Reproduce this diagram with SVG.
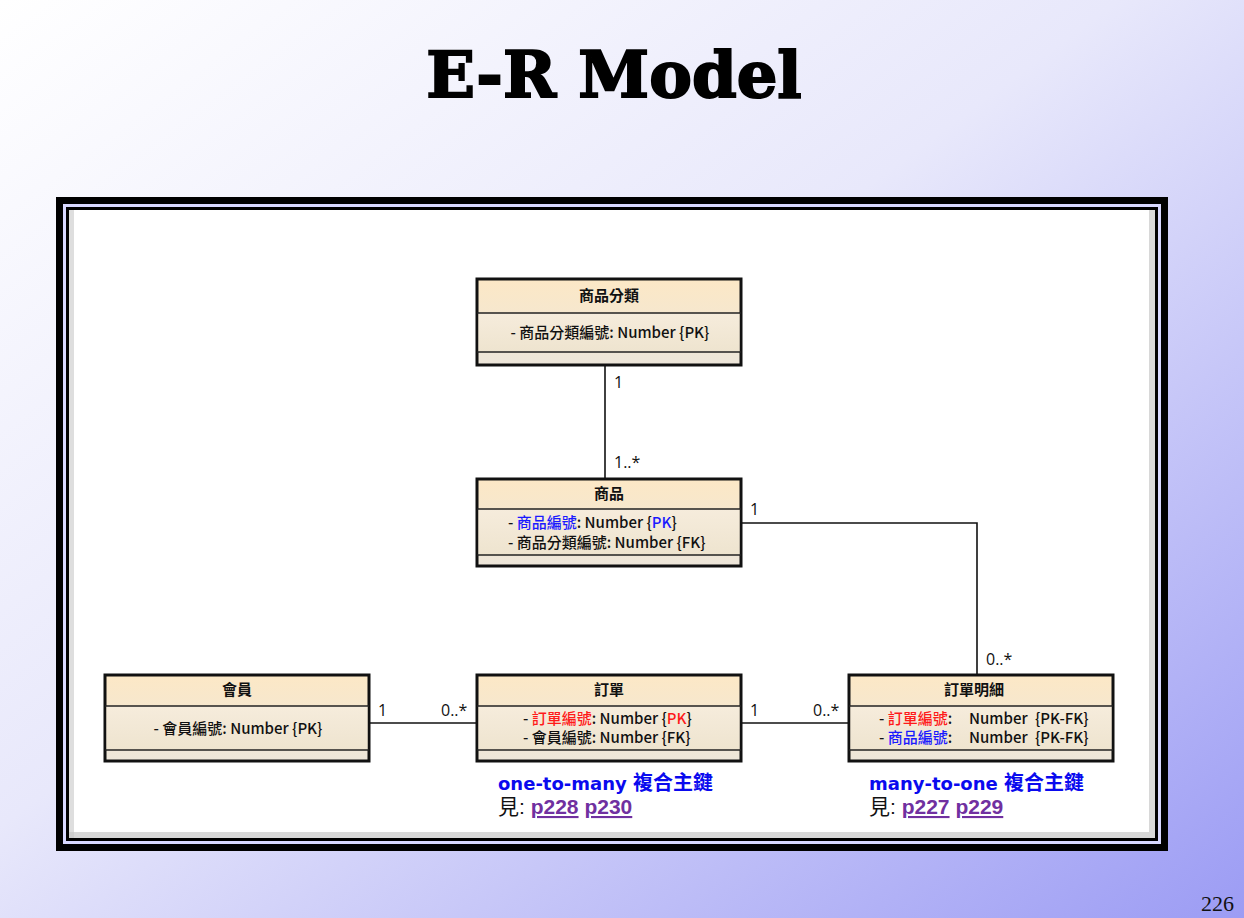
<svg xmlns="http://www.w3.org/2000/svg" width="1244" height="918" viewBox="0 0 1244 918">
<defs>
<linearGradient id="bg" x1="0" y1="0" x2="1" y2="1">
<stop offset="0" stop-color="#ffffff"/>
<stop offset="0.45" stop-color="#e8e8fb"/>
<stop offset="1" stop-color="#9c9cf4"/>
</linearGradient>
<linearGradient id="boxfill" x1="0" y1="0" x2="0" y2="1">
<stop offset="0" stop-color="#fce8c6"/>
<stop offset="1" stop-color="#ede6da"/>
</linearGradient>
<linearGradient id="attrfill" x1="0" y1="0" x2="0" y2="1">
<stop offset="0" stop-color="#f6ecdc"/>
<stop offset="1" stop-color="#eee4cf"/>
</linearGradient>
<style>
.box{fill:url(#boxfill);stroke:#111;stroke-width:3}
.attr{fill:url(#attrfill)}
.sep{stroke:#222;stroke-width:1.5}
.t{font-family:"Noto Sans CJK TC","Noto Sans",sans-serif;font-size:15px;font-weight:500;fill:#111}
.h{font-family:"Noto Sans CJK TC","Noto Sans",sans-serif;font-size:15px;font-weight:bold;fill:#111}
.lbl{font-family:"Open Sans","Liberation Sans",sans-serif;font-size:16px;fill:#111}
.conn{stroke:#111;stroke-width:1.6;fill:none}
.r{fill:#ff1a1a}
.b{fill:#1a1aff}
.note{font-family:"DejaVu Sans","Noto Sans CJK TC",sans-serif;font-size:18px;font-weight:bold;fill:#0a0aee}
.notecjk{font-family:"Noto Sans CJK TC",sans-serif;font-size:20px}
.see{font-family:"Liberation Sans","Noto Sans CJK TC",sans-serif;font-size:21px;fill:#111}
.lnk{fill:#7030a0;font-weight:bold;text-decoration:underline}
</style>
</defs>
<rect width="1244" height="918" fill="url(#bg)"/>
<text x="614" y="97" text-anchor="middle" font-family="'DejaVu Serif','Liberation Serif',serif" font-weight="bold" font-size="64" fill="#000" stroke="#000" stroke-width="2">E-R Model</text>

<g id="frame">
<rect x="56" y="197" width="1112" height="654" fill="#000"/>
<rect x="63" y="204" width="1098" height="640" fill="#d8d8ff"/>
<rect x="66" y="207" width="1092" height="634" fill="#000"/>
<rect x="69" y="210" width="1086" height="628" fill="#ffffff"/>
<rect x="1149" y="210" width="6" height="628" fill="#d8d8d8"/>
<rect x="69" y="832" width="1086" height="6" fill="#d8d8d8"/>
<rect x="69" y="210" width="5" height="628" fill="#c8c8c8" opacity="0.6"/>
</g>

<g id="connectors">
<line class="conn" x1="605" y1="366" x2="605" y2="478"/>
<polyline class="conn" points="742,523 977,523 977,674"/>
<line class="conn" x1="370" y1="723" x2="476" y2="723"/>
<line class="conn" x1="742" y1="723" x2="848" y2="723"/>
<text class="lbl" x="614" y="388">1</text>
<text class="lbl" x="614" y="468">1..*</text>
<text class="lbl" x="750" y="515">1</text>
<text class="lbl" x="986" y="665">0..*</text>
<text class="lbl" x="378" y="716">1</text>
<text class="lbl" x="441" y="716">0..*</text>
<text class="lbl" x="750" y="716">1</text>
<text class="lbl" x="813" y="716">0..*</text>
</g>

<g id="node-category">
<rect class="box" x="477" y="279" width="264" height="86"/>
<rect class="attr" x="478.5" y="313" width="261" height="39"/>
<line class="sep" x1="477" y1="313" x2="741" y2="313"/>
<line class="sep" x1="477" y1="352" x2="741" y2="352"/>
<text class="h" x="609" y="301" text-anchor="middle">商品分類</text>
<text class="t" x="610" y="338" text-anchor="middle">-  商品分類編號: Number {PK}</text>
</g>

<g id="node-product">
<rect class="box" x="477" y="479" width="264" height="87"/>
<rect class="attr" x="478.5" y="509" width="261" height="46"/>
<line class="sep" x1="477" y1="509" x2="741" y2="509"/>
<line class="sep" x1="477" y1="555" x2="741" y2="555"/>
<text class="h" x="609" y="499" text-anchor="middle">商品</text>
<text class="t" x="508" y="528">-  <tspan class="b">商品編號</tspan>: Number {<tspan class="b">PK</tspan>}</text>
<text class="t" x="508" y="548">-  商品分類編號: Number {FK}</text>
</g>

<g id="node-member">
<rect class="box" x="105" y="675" width="264" height="86"/>
<rect class="attr" x="106.5" y="706" width="261" height="44"/>
<line class="sep" x1="105" y1="706" x2="369" y2="706"/>
<line class="sep" x1="105" y1="750" x2="369" y2="750"/>
<text class="h" x="237" y="695" text-anchor="middle">會員</text>
<text class="t" x="238" y="734" text-anchor="middle">-  會員編號: Number {PK}</text>
</g>

<g id="node-order">
<rect class="box" x="477" y="675" width="264" height="86"/>
<rect class="attr" x="478.5" y="706" width="261" height="44"/>
<line class="sep" x1="477" y1="706" x2="741" y2="706"/>
<line class="sep" x1="477" y1="750" x2="741" y2="750"/>
<text class="h" x="609" y="695" text-anchor="middle">訂單</text>
<text class="t" x="523" y="724">-  <tspan class="r">訂單編號</tspan>: Number {<tspan class="r">PK</tspan>}</text>
<text class="t" x="523" y="743">-  會員編號: Number {FK}</text>
</g>

<g id="node-orderdetail">
<rect class="box" x="849" y="675" width="264" height="86"/>
<rect class="attr" x="850.5" y="706" width="261" height="44"/>
<line class="sep" x1="849" y1="706" x2="1113" y2="706"/>
<line class="sep" x1="849" y1="750" x2="1113" y2="750"/>
<text class="h" x="974" y="695" text-anchor="middle">訂單明細</text>
<text class="t" x="879" y="724">-  <tspan class="r">訂單編號</tspan>:<tspan x="969">Number</tspan><tspan x="1035">{PK-FK}</tspan></text>
<text class="t" x="879" y="743">-  <tspan class="b">商品編號</tspan>:<tspan x="969">Number</tspan><tspan x="1035">{PK-FK}</tspan></text>
</g>

<g id="note-left">
<text class="note" x="498" y="790">one-to-many <tspan class="notecjk">複合主鍵</tspan></text>
<text class="see" x="498" y="814">見: <tspan class="lnk">p228</tspan> <tspan class="lnk">p230</tspan></text>
</g>
<g id="note-right">
<text class="note" x="869" y="790">many-to-one <tspan class="notecjk">複合主鍵</tspan></text>
<text class="see" x="869" y="814">見: <tspan class="lnk">p227</tspan> <tspan class="lnk">p229</tspan></text>
</g>

<text x="1234" y="911" text-anchor="end" font-family="'Liberation Serif',serif" font-size="22" fill="#111">226</text>
</svg>
